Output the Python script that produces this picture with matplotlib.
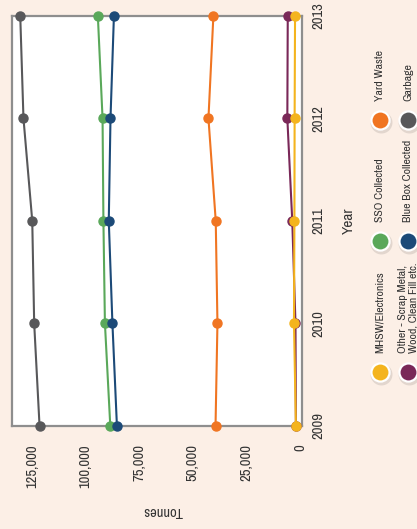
import matplotlib
matplotlib.use("Agg")
import matplotlib.pyplot as plt

plt.rcParams['font.family'] = ['Archivo Narrow', 'PT Sans Narrow', 'DejaVu Sans']

years = [2009, 2010, 2011, 2012, 2013]

garbage = [121500, 124000, 124900, 129000, 130500]
sso = [88500, 91000, 91700, 92100, 94300]
blue_box = [85400, 87500, 89200, 88400, 86800]
yard_waste = [39400, 38500, 39300, 42700, 40400]
other = [1900, 2100, 3600, 5900, 5700]
mhsw = [1900, 2800, 2600, 2500, 2300]

tonne_ticks = [0, 25000, 50000, 75000, 100000, 125000]
tonne_labels = ["0", "25,000", "50,000", "75,000", "100,000", "125,000"]

series = [
    ("Garbage", garbage, "#58585a"),
    ("Yard Waste", yard_waste, "#f07522"),
    ("SSO Collected", sso, "#5aa85a"),
    ("Blue Box Collected", blue_box, "#1c4a78"),
    ("Other - Scrap Metal,\nWood, Clean Fill etc.", other, "#7a2858"),
    ("MHSW/Electronics", mhsw, "#f4b41e"),
]

# legend layout (rotated chart: two columns of three)
legend_order = ["MHSW/Electronics", "SSO Collected", "Yard Waste",
                "Other - Scrap Metal,\nWood, Clean Fill etc.", "Blue Box Collected", "Garbage"]
legend_x = [380, 380, 380, 408, 408, 408]
legend_y = [372, 241, 120, 372, 241, 120]

bg = "#fcefe6"
fig = plt.figure(figsize=(4.17, 5.29), dpi=100, facecolor=bg)
ax = fig.add_axes([0.028, 0.195, 0.696, 0.775])
ax.set_facecolor("white")

for name, vals, col in series:
    ax.plot(vals, years, color=col, lw=1.5, marker="o", ms=6.5, clip_on=False, zorder=3)

ax.set_xlim(134500, -900)
ax.set_ylim(2009, 2013)
ax.set_xticks(tonne_ticks)
ax.set_xticklabels(tonne_labels, rotation=90)
ax.set_yticks(years)
ax.set_yticklabels([str(y) for y in years], rotation=90, va="center")
ax.yaxis.tick_right()
ax.yaxis.set_label_position("right")
ax.tick_params(axis="x", length=0, pad=13, labelsize=10.5, colors="#333333")
ax.tick_params(axis="y", length=0, pad=7, labelsize=10.5, colors="#333333")
for s in ax.spines.values():
    s.set_color("#8e8e8e")
    s.set_linewidth(1.6)

ax.set_xlabel("Tonnes", rotation=180, fontsize=10.5, color="#333333")
ax.set_ylabel("Year", rotation=90, fontsize=11, color="#333333", labelpad=12)
ax.xaxis.set_label_coords(0.52, -0.19)

# manual legend in pixel coordinates
lg = fig.add_axes([0, 0, 1, 1], zorder=5)
lg.set_xlim(0, 417)
lg.set_ylim(529, 0)
lg.axis("off")
colors = {name: col for name, vals, col in series}
for name, x, y in zip(legend_order, legend_x, legend_y):
    lg.scatter([x + 1], [y + 1.5], s=250, color="#000000", alpha=0.1, lw=0, clip_on=False)
    lg.scatter([x], [y], s=170, color=colors[name], edgecolor="white", lw=1.6, clip_on=False)
    lg.text(x, y - 19, name, rotation=90, ha="center", va="bottom", multialignment="left",
            fontsize=8.5, color="#333333", linespacing=1.05, clip_on=False)

fig.savefig("out.png", dpi=100, facecolor=bg)
